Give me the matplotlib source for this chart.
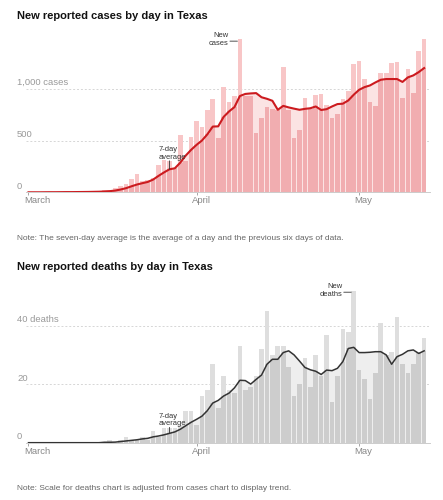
import numpy as np
import matplotlib
matplotlib.use("Agg")
import matplotlib.pyplot as plt
from matplotlib import font_manager as fm

# ---------------- data (day 0 = March 1, last = May 13) ----------------
cases = [0, 0, 0, 1, 2, 1, 2, 3, 2, 4, 5, 6, 8, 10, 20, 25, 40, 58, 84, 130,
         172, 110, 120, 135, 260, 315, 300, 235, 553, 300, 537, 690, 628, 798, 902, 527,
         1018, 868, 933, 1478, 927, 927, 570, 716, 820, 806, 797, 1208, 797, 520,
         602, 910, 800, 936, 948, 845, 720, 758, 903, 975, 1235, 1273, 1095, 868,
         836, 1155, 1155, 1245, 1262, 910, 1188, 956, 1365, 1478]
cases_avg = [0, 0, 0, 0.5, 1, 1, 1.5, 2, 2, 2.5, 3, 3.5, 4.5, 5.5, 8, 11, 17, 27, 40, 58,
             75, 88, 100, 123, 159, 192, 222, 232, 286, 354, 410, 458, 500, 560, 635, 637,
             728, 781, 823, 930, 950, 955, 958, 918, 903, 884, 797, 835, 820, 808,
             797, 806, 812, 829, 795, 803, 829, 852, 856, 887, 942, 990, 1016, 1032,
             1061, 1087, 1094, 1094, 1094, 1066, 1110, 1129, 1161, 1200]
deaths = [0, 0, 0, 0, 0, 0, 0, 0, 0, 0, 0, 0, 0, 0, 0, 1, 0, 1, 2, 1,
          1, 2, 1, 4, 2, 5, 5, 5, 6, 11, 11, 6, 16, 18, 27, 12, 23, 18, 17, 33,
          18, 19, 23, 32, 45, 30, 33, 33, 26, 16, 20, 29, 19, 30, 23, 37, 14, 23, 39, 38,
          52, 25, 22, 15, 24, 41, 30, 31, 43, 27, 24, 27, 31, 36]
deaths_avg = [0, 0, 0, 0, 0, 0, 0, 0, 0, 0, 0, 0, 0, 0, 0.15, 0.15, 0.2, 0.4, 0.6, 0.8,
              1.0, 1.3, 1.5, 2.0, 2.3, 2.7, 3.2, 3.7, 4.6, 5.8, 7.0, 8.0, 9.1, 11.0, 13.6, 14.5,
              16.0, 17.0, 18.8, 21.4, 21.3, 20.1, 21.7, 23.2, 26.9, 28.6, 28.6, 30.9, 31.5, 30.1,
              28.0, 25.8, 25.0, 24.5, 23.4, 24.9, 24.7, 25.5, 27.8, 32.3, 32.7, 30.9, 30.9, 31.0,
              31.2, 31.2, 30.1, 26.9, 29.5, 30.3, 31.5, 31.8, 30.6, 31.5]
month_ticks = [0, 31, 61]
month_labels = ["March", "April", "May"]
cases_grid = [0, 500, 1000]
cases_grid_labels = ["0", "500", "1,000 cases"]
deaths_grid = [0, 20, 40]
deaths_grid_labels = ["0", "20", "40 deaths"]

# ---------------- fonts ----------------
names = {f.name for f in fm.fontManager.ttflist}
NARROW = "Liberation Sans Narrow" in names
BASE = "Liberation Sans" if "Liberation Sans" in names else "DejaVu Sans"
TFONT = "Liberation Sans Narrow" if NARROW else BASE
title_size = 9.8 if NARROW else 8.0
ann_size = 6.3 if NARROW else 5.4
note_size = 7.2 if NARROW else 6.0
lab_size = 6.8

W, H = 443, 500
fig = plt.figure(figsize=(W / 100, H / 100), dpi=100)
PX = 0.72  # points per pixel


def fx(px):
    return px / W


def fy(py):
    return 1 - py / H


def draw_panel(ax, vals, avg, ymax, grid, grid_labels, c_above, c_below, c_area,
               c_line, lw_line):
    days = np.arange(len(vals))
    vals = np.asarray(vals, float)
    avg = np.asarray(avg, float)
    ax.set_xlim(-0.46, 74.08)
    ax.set_ylim(0, ymax)
    for g in grid[1:]:
        ax.axhline(g, color="#d6d6d6", lw=0.7, dashes=(2, 2), zorder=0.5)
    ax.fill_between(days, 0, avg, color=c_area, lw=0, zorder=1)
    ax.bar(days, vals, width=0.86, color=c_above, lw=0, zorder=2)
    ax.bar(days, np.minimum(vals, avg), width=0.86, color=c_below, lw=0, zorder=2.1)
    ax.plot(days, avg, color=c_line, lw=lw_line, zorder=3, solid_joinstyle="round")
    for s in ["top", "right", "left"]:
        ax.spines[s].set_visible(False)
    ax.spines["bottom"].set_color("#cccccc")
    ax.spines["bottom"].set_linewidth(0.7)
    ax.set_yticks([])
    ax.set_xticks(month_ticks)
    ax.set_xticklabels([])
    ax.tick_params(axis="x", length=2.5, width=0.6, color="#999999", direction="out")
    for d, lab in zip(month_ticks, month_labels):
        ax.annotate(lab, xy=(d, 0), xycoords=("data", "axes fraction"),
                    xytext=(-4.5 * PX, -8.5 * PX), textcoords="offset points",
                    ha="left", va="center", fontsize=lab_size, color="#888888",
                    family=BASE)
    for g, lab in zip(grid, grid_labels):
        ax.annotate(lab, xy=(fx(17), g), xycoords=(fig.transFigure, "data"),
                    xytext=(0, 3.6 * PX), textcoords="offset points",
                    ha="left", va="baseline", fontsize=lab_size, color="#999999",
                    family=BASE, annotation_clip=False)


# cases panel
ax1 = fig.add_axes([fx(26), fy(192.3), fx(404), 155.3 / H])
draw_panel(ax1, cases, cases_avg, 1500, cases_grid, cases_grid_labels,
           "#f8c6c7", "#f1adb0", "#fbe3e3", "#cc1b1f", 1.5)
# deaths panel
ax2 = fig.add_axes([fx(26), fy(442.7), fx(404), 157.5 / H])
draw_panel(ax2, deaths, deaths_avg, 54, deaths_grid, deaths_grid_labels,
           "#dedede", "#cdcdcd", "#eeeeee", "#333333", 1.1)

# titles and notes
fig.text(fx(17), fy(18.7), "New reported cases by day in Texas", fontsize=title_size,
         fontweight="bold", family=TFONT, color="#121212", va="baseline")
fig.text(fx(17), fy(270.2), "New reported deaths by day in Texas", fontsize=title_size,
         fontweight="bold", family=TFONT, color="#121212", va="baseline")
fig.text(fx(17), fy(239.5),
         "Note: The seven-day average is the average of a day and the previous six days of data.",
         fontsize=note_size, family=TFONT, color="#666666", va="baseline")
fig.text(fx(17), fy(489.5),
         "Note: Scale for deaths chart is adjusted from cases chart to display trend.",
         fontsize=note_size, family=TFONT, color="#666666", va="baseline")


def new_label(ax, day, yval, word):
    ax.annotate("", xy=(day - 0.45, yval), xycoords="data",
                xytext=(-7.5 * PX, 0), textcoords="offset points",
                arrowprops=dict(arrowstyle="-", lw=0.6, color="#333333",
                                shrinkA=0, shrinkB=0), annotation_clip=False)
    ax.annotate(word, xy=(day - 0.45, yval), xytext=(-9 * PX, -4.3 * PX),
                textcoords="offset points", ha="right", va="baseline",
                fontsize=ann_size, family=TFONT, color="#333333", annotation_clip=False)
    ax.annotate("New", xy=(day - 0.45, yval), xytext=(-8.5 * PX, 4.0 * PX),
                textcoords="offset points", ha="right", va="baseline",
                fontsize=ann_size, family=TFONT, color="#333333", annotation_clip=False)


def avg_label(ax, day, yval, up1, up2, tick):
    ax.annotate("", xy=(day, yval), xytext=(0, tick * PX), textcoords="offset points",
                arrowprops=dict(arrowstyle="-", lw=0.6, color="#333333",
                                shrinkA=0, shrinkB=0))
    ax.annotate("average", xy=(day, yval), xytext=(-10.5 * PX, up1 * PX),
                textcoords="offset points", ha="left", va="baseline",
                fontsize=ann_size, family=TFONT, color="#333333")
    ax.annotate("7-day", xy=(day, yval), xytext=(-10.5 * PX, up2 * PX),
                textcoords="offset points", ha="left", va="baseline",
                fontsize=ann_size, family=TFONT, color="#333333")


new_label(ax1, 39, cases[39] - 18, "cases")
new_label(ax2, 60, deaths[60] - 0.4, "deaths")
avg_label(ax1, 26, cases_avg[26], 10.4, 18.0, 8.5)
avg_label(ax2, 26, deaths_avg[26], 8.0, 15.5, 6.0)

fig.savefig("out.png", dpi=100)
